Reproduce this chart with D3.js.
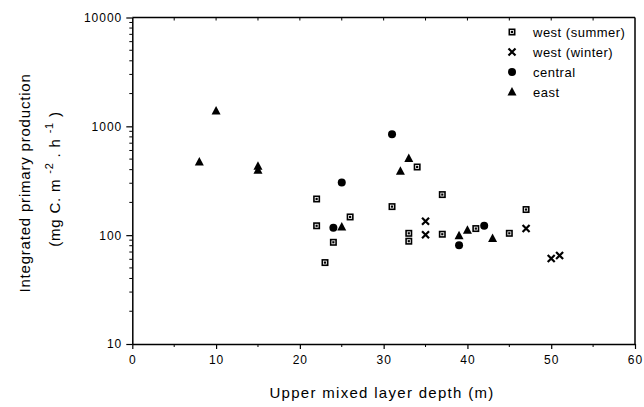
<!DOCTYPE html>
<html><head><meta charset="utf-8">
<script src="https://cdn.jsdelivr.net/npm/d3@7"></script>
<style>
body{margin:0;background:#fff;}
text{font-family:"Liberation Sans",Arial,sans-serif;fill:#000;}
</style></head>
<body><svg id="c" width="644" height="407"></svg>
<script>
const westSummerX = [22,22,23,24,26,31,33,33,34,37,37,41,45,47];
const westSummerY = [215,122,56,86,147,183,104,88,423,236,102,115,104,172];
const westWinterX = [35,35,47,50,51];
const westWinterY = [134,101,115,61,65];
const centralX = [24,25,31,39,42];
const centralY = [117,304,845,81,122];
const eastX = [8,10,15,15,25,32,33,39,40,43];
const eastY = [470,1380,430,395,119,386,506,99,111,93];
const xTicks = [0,10,20,30,40,50,60];
const yTicks = [10,100,1000,10000];
const legendLabels = ["west (summer)","west (winter)","central","east"];

const svg = d3.select("#c");
const L=132.3, R=635, T=17.5, B=344;
const x = d3.scaleLinear().domain([0,60]).range([L,R]);
const y = d3.scaleLog().domain([10,10000]).range([B,T]);

// frame
svg.append("line").attr("x1",L).attr("x2",R).attr("y1",T).attr("y2",T).attr("stroke","#000").attr("stroke-width",1.5);
svg.append("line").attr("x1",R).attr("x2",R).attr("y1",T).attr("y2",B).attr("stroke","#000").attr("stroke-width",1.5);

// bottom axis
const gx = svg.append("g").attr("transform",`translate(0,${B})`);
gx.call(d3.axisBottom(x).tickValues(xTicks).tickSize(5).tickSizeOuter(0).tickPadding(6).tickFormat(d3.format("d")));
gx.append("g").selectAll("line").data(d3.range(5,60,10)).join("line")
  .attr("x1",d=>x(d)).attr("x2",d=>x(d)).attr("y1",0).attr("y2",3).attr("stroke","#000");
// top minor ticks
svg.append("g").selectAll("line").data(d3.range(5,60,5)).join("line")
  .attr("x1",d=>x(d)).attr("x2",d=>x(d)).attr("y1",T).attr("y2",T+3).attr("stroke","#000");

// left axis
const gy = svg.append("g").attr("transform",`translate(${L},0)`);
gy.call(d3.axisLeft(y).tickValues(yTicks).tickSize(6).tickSizeOuter(0).tickPadding(4).tickFormat(d3.format("d")));
const minors=[];
[10,100,1000].forEach(dec=>{for(let k=2;k<10;k++) minors.push(dec*k);});
gy.append("g").selectAll("line").data(minors).join("line")
  .attr("x1",-3).attr("x2",0).attr("y1",d=>y(d)).attr("y2",d=>y(d)).attr("stroke","#000");

svg.selectAll(".domain").attr("stroke","#000").attr("stroke-width",1.5);
svg.selectAll(".tick line").attr("stroke","#000").attr("stroke-width",1.2);
svg.selectAll(".tick text").style("font-family","'Liberation Sans',Arial,sans-serif").style("font-size","12px").style("letter-spacing","1px");

// axis titles
svg.append("text").attr("x",382).attr("y",398).attr("text-anchor","middle")
  .style("font-size","15px").style("letter-spacing","1.3px").text("Upper mixed layer depth (m)");
svg.append("text").attr("transform",`translate(30,183) rotate(-90)`).attr("text-anchor","middle")
  .style("font-size","15px").style("letter-spacing","0.8px").text("Integrated primary production");
const t2 = svg.append("text").attr("transform",`translate(60,179) rotate(-90)`).attr("text-anchor","middle")
  .style("font-size","15px").style("letter-spacing","0.8px");
t2.append("tspan").text("(mg C. m ");
t2.append("tspan").attr("dy",-7).style("font-size","11px").text("-2");
t2.append("tspan").attr("dy",7).text(" . h ");
t2.append("tspan").attr("dy",-7).style("font-size","11px").text("-1");
t2.append("tspan").attr("dy",7).text("   )");

// markers
function square(g,cx,cy){
  g.append("rect").attr("x",cx-3.5).attr("y",cy-3.5).attr("width",7).attr("height",7).attr("fill","#000");
  g.append("rect").attr("x",cx-1.5).attr("y",cy-1.5).attr("width",3).attr("height",3).attr("fill","none").attr("stroke","#fff").attr("stroke-width",0.8);
}
function cross(g,cx,cy){
  g.append("path").attr("d",`M${cx-3.5},${cy-3.5}L${cx+3.5},${cy+3.5}M${cx+3.5},${cy-3.5}L${cx-3.5},${cy+3.5}`)
   .attr("stroke","#000").attr("stroke-width",2.2);
}
function circle(g,cx,cy){ g.append("circle").attr("cx",cx).attr("cy",cy).attr("r",4).attr("fill","#000"); }
function tri(g,cx,cy){ g.append("path").attr("d",`M${cx},${cy-5}L${cx+4.5},${cy+3.5}L${cx-4.5},${cy+3.5}Z`).attr("fill","#000"); }

const pts = svg.append("g");
westSummerX.forEach((v,i)=>square(pts,x(v),y(westSummerY[i])));
westWinterX.forEach((v,i)=>cross(pts,x(v),y(westWinterY[i])));
centralX.forEach((v,i)=>circle(pts,x(v),y(centralY[i])));
eastX.forEach((v,i)=>tri(pts,x(v),y(eastY[i])));

// legend
const lg = svg.append("g");
const fns=[square,cross,circle,tri];
legendLabels.forEach((lab,i)=>{
  const cy = 32 + i*20;
  fns[i](lg,512,cy);
  lg.append("text").attr("x",533).attr("y",cy+5).style("font-size","13px").style("letter-spacing","0.5px").text(lab);
});
</script></body></html>
